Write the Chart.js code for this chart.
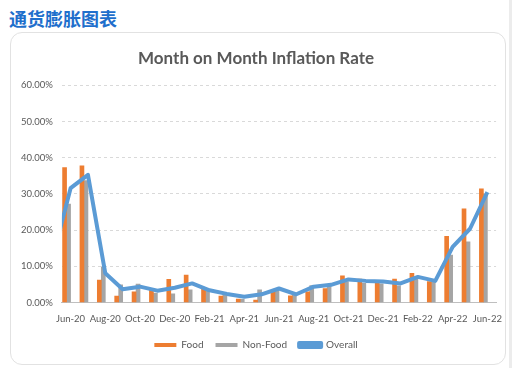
<!DOCTYPE html>
<html>
<head>
<meta charset="utf-8">
<script src="https://cdn.jsdelivr.net/npm/chart.js@4"></script>
<style>
  html, body { margin:0; padding:0; background:#fff; }
  body { width:512px; height:368px; position:relative; overflow:hidden; font-family:"Noto Sans CJK SC", sans-serif; }
  .page-title { position:absolute; left:9px; top:5px; font-size:18px; font-weight:700; color:#1f6fcc; }
  .card { position:absolute; left:10px; top:32px; width:494px; height:331px; border:1px solid #e2e2e2; border-radius:12px; background:#fff; }
  .card canvas { position:absolute; left:0; top:0; }
  .edge { position:absolute; right:0; top:0; width:3px; height:368px; background:#ececec; }
</style>
</head>
<body>
<div class="page-title">通货膨胀图表</div>
<div class="card"><canvas id="chart" width="494" height="331"></canvas></div>
<div class="edge"></div>
<script>
// data (percent)
const months = ['Jun-20','Jul-20','Aug-20','Sep-20','Oct-20','Nov-20','Dec-20','Jan-21','Feb-21','Mar-21','Apr-21','May-21',
  'Jun-21','Jul-21','Aug-21','Sep-21','Oct-21','Nov-21','Dec-21','Jan-22','Feb-22','Mar-22','Apr-22','May-22','Jun-22'];
const food    = [37.3,37.8,6.2,1.8,3.0,3.5,6.4,7.6,4.2,1.8,1.0,0.7,3.0,1.9,3.0,3.9,7.4,6.5,5.3,6.5,8.1,5.8,18.3,25.9,31.4];
const nonFood = [27.2,33.7,9.9,4.9,5.1,2.6,2.4,3.5,3.2,2.2,0.9,3.5,3.9,2.3,4.7,4.9,5.8,5.3,5.2,4.6,6.5,5.8,13.1,16.8,30.0];
const overall = [31.6,35.3,8.1,3.7,4.4,3.3,4.1,5.3,3.4,2.4,1.6,2.3,3.9,2.3,4.4,4.9,6.4,6.0,5.8,5.3,7.1,6.0,15.4,20.4,30.5];
const overallPrev = 12.9; // May-20, only its segment shows at the left edge
const yTicks = [0,10,20,30,40,50,60];

const txt = '#595959';
const font = 'Lato, "Open Sans", sans-serif';

const linePts = [{x:-1, y:overallPrev}].concat(overall.map((v,i)=>({x:i, y:v})));

new Chart(document.getElementById('chart'), {
  data: {
    labels: months,
    datasets: [
      { type:'bar', label:'Food', data:food, backgroundColor:'#ED7D31', borderWidth:0, barThickness:4, order:2 },
      { type:'bar', label:'Non-Food', data:nonFood, backgroundColor:'#A5A5A5', borderWidth:0, barThickness:4, order:2 },
      { type:'line', label:'Overall', data:linePts, xAxisID:'xl', borderColor:'#5B9BD5', backgroundColor:'#5B9BD5',
        borderWidth:4, pointRadius:0, tension:0, borderJoinStyle:'round', clip:0, order:1 }
    ]
  },
  options: {
    responsive:false, animation:false,
    layout:{ padding:{ left:1, right:5, top:8, bottom:4 } },
    plugins: {
      title:{ display:true, text:'Month on Month Inflation Rate', color:txt,
        font:{ family:font, size:17, weight:'bold' }, padding:{ top:7, bottom:17 } },
      legend:{ position:'bottom',
        labels:{ color:txt, font:{ family:font, size:10 }, boxWidth:22, boxHeight:4, padding:12,
          sort:(a,b)=> a.datasetIndex - b.datasetIndex } },
      tooltip:{ enabled:false }
    },
    scales: {
      x: { grid:{ display:false }, border:{ color:'#bfbfbf' },
        ticks:{ color:txt, font:{ family:font, size:9.5 }, autoSkip:false, maxRotation:0,
          callback:(v,i)=> i % 2 === 0 ? months[i] : '' } },
      xl: { type:'linear', display:false, min:-0.5, max:months.length-0.5 },
      y: { min:0, max:60, afterBuildTicks:(s)=>{ s.ticks = yTicks.map(v=>({value:v})); },
        grid:{ color:'#d9d9d9', drawTicks:false }, border:{ display:false, dash:[3,3] },
        ticks:{ color:txt, font:{ family:font, size:9.5 }, padding:9, callback:(v)=> v.toFixed(2)+'%' } }
    }
  }
});
</script>
</body>
</html>
